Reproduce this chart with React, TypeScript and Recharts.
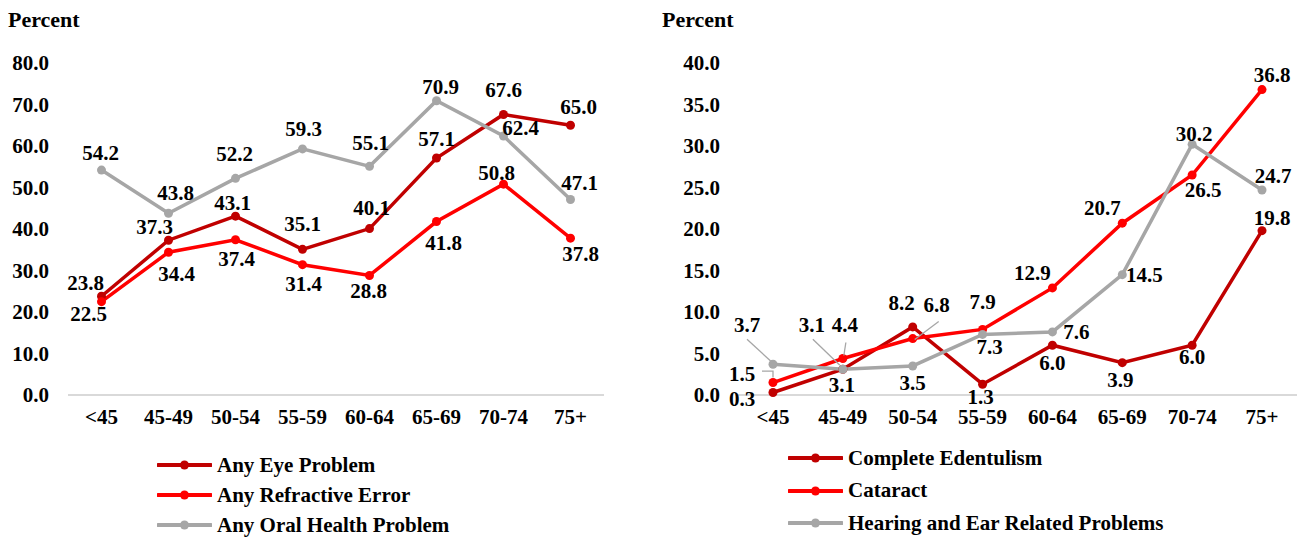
import React from "react";
import { LineChart, Line, XAxis, YAxis } from "recharts";

const ageGroups = ["<45", "45-49", "50-54", "55-59", "60-64", "65-69", "70-74", "75+"];

// left panel
const anyEyeProblem = [23.8, 37.3, 43.1, 35.1, 40.1, 57.1, 67.6, 65.0];
const anyRefractiveError = [22.5, 34.4, 37.4, 31.4, 28.8, 41.8, 50.8, 37.8];
const anyOralHealthProblem = [54.2, 43.8, 52.2, 59.3, 55.1, 70.9, 62.4, 47.1];
const leftTicks = [0, 10, 20, 30, 40, 50, 60, 70, 80];

// right panel
const completeEdentulism = [0.3, 3.1, 8.2, 1.3, 6.0, 3.9, 6.0, 19.8];
const cataract = [1.5, 4.4, 6.8, 7.9, 12.9, 20.7, 26.5, 36.8];
const hearingEarProblems = [3.7, 3.1, 3.5, 7.3, 7.6, 14.5, 30.2, 24.7];
const rightTicks = [0, 5, 10, 15, 20, 25, 30, 35, 40];

const DARK_RED = "#C00000";
const RED = "#FF0000";
const GRAY = "#A6A6A6";
const FONT = "'Liberation Serif', 'Times New Roman', serif";

// label placement (offset from the point), like manually moved Excel labels
type Pt = [number, number];
const eyeLabelPos: Pt[] = [[-16, -13], [-14, -13], [-3, -13], [0, -25], [2, -21], [0, -19], [0, -24], [8, -18]];
const refrLabelPos: Pt[] = [[-13, 12], [8, 22], [1, 19], [1, 19], [-1, 16], [7, 21], [-7, -11], [10, 16]];
const oralLabelPos: Pt[] = [[-1, -17], [7, -20], [-1, -24], [1, -20], [1, -23], [4, -14], [17, -8], [9, -17]];

const edenLabelPos: Pt[] = [[-31, 6], [-1, 16], [-11, -24], [-2, 13], [0, 18], [-2, 17], [0, 12], [10, -13]];
const catLabelPos: Pt[] = [[-31, -9], [2, -33], [24, -34], [0, -27], [-20, -15], [-20, -15], [11, 15], [10, -15]];
const hearLabelPos: Pt[] = [[-26, -39], [-31, -44], [0, 17], [7, 13], [24, 0], [22, 0], [2, -10], [11, -14]];

const catLeaders: Record<number, Pt[]> = {
  0: [[-11, -11.5], [0, -11.5], [0, -5]],
  1: [[3, -16], [1, -3]],
  2: [[26, -17], [2, 1]],
};
const hearLeaders: Record<number, Pt[]> = {
  0: [[-26, -25], [-1, -2]],
  1: [[-30, -30], [-3, -4]],
};

const leftData = ageGroups.map((group, i) => ({
  group,
  eye: anyEyeProblem[i],
  refr: anyRefractiveError[i],
  oral: anyOralHealthProblem[i],
}));

const rightData = ageGroups.map((group, i) => ({
  group,
  eden: completeEdentulism[i],
  cat: cataract[i],
  hear: hearingEarProblems[i],
}));

const tickStyle = { fontSize: 21, fontWeight: "bold", fill: "#000", fontFamily: FONT };

function dotRenderer(color: string) {
  return (props: any) => {
    const { cx, cy, index } = props;
    if (cx == null || cy == null) return <g key={`dot-${index}`} />;
    return <circle key={`dot-${index}`} cx={cx} cy={cy} r={4.5} fill={color} stroke="none" />;
  };
}

function labelRenderer(values: number[], pos: Pt[], leaders: Record<number, Pt[]> = {}) {
  return (props: any) => {
    const { cx, cy, index } = props;
    if (cx == null || cy == null) return <g key={`lbl-${index}`} />;
    const [dx, dy] = pos[index];
    const leader = leaders[index];
    return (
      <g key={`lbl-${index}`}>
        {leader && (
          <polyline
            points={leader.map(([x, y]) => `${cx + x},${cy + y}`).join(" ")}
            fill="none"
            stroke={GRAY}
            strokeWidth={1.3}
          />
        )}
        <text
          x={cx + dx}
          y={cy + dy}
          textAnchor="middle"
          dominantBaseline="central"
          fontSize={21}
          fontWeight="bold"
          fontFamily={FONT}
          fill="#000"
        >
          {values[index].toFixed(1)}
        </text>
      </g>
    );
  };
}

function LegendBlock({
  items,
  left,
  top,
  gap,
}: {
  items: { name: string; color: string }[];
  left: number;
  top: number;
  gap: number;
}) {
  return (
    <>
      {items.map((it, i) => (
        <div
          key={it.name}
          style={{
            position: "absolute",
            left,
            top: top + i * gap - 13,
            height: 26,
            display: "flex",
            alignItems: "center",
            whiteSpace: "nowrap",
          }}
        >
          <svg width={55} height={12} style={{ display: "block" }}>
            <line x1={1} y1={6} x2={54} y2={6} stroke={it.color} strokeWidth={4} strokeLinecap="round" />
            <circle cx={27.5} cy={6} r={4.5} fill={it.color} />
          </svg>
          <span style={{ marginLeft: 5, fontSize: 21, fontWeight: "bold", color: "#000" }}>{it.name}</span>
        </div>
      ))}
    </>
  );
}

export default function App() {
  return (
    <div
      style={{
        position: "absolute",
        left: 0,
        top: 0,
        width: 1307,
        height: 537,
        background: "#fff",
        fontFamily: FONT,
        overflow: "hidden",
      }}
    >
      {/* Percent titles */}
      <div style={{ position: "absolute", left: 8, top: 7, fontSize: 22, fontWeight: "bold" }}>Percent</div>
      <div style={{ position: "absolute", left: 662, top: 7, fontSize: 22, fontWeight: "bold" }}>Percent</div>

      {/* left chart */}
      <div style={{ position: "absolute", left: 0, top: 0 }}>
        <LineChart width={660} height={537} data={leftData} margin={{ top: 63, right: 56, bottom: 112, left: 8 }}>
          <XAxis
            dataKey="group"
            padding={{ left: 33.5, right: 33.5 }}
            tickLine={false}
            axisLine={{ stroke: "#D9D9D9", strokeWidth: 2 }}
            tick={tickStyle}
            tickMargin={8}
            interval={0}
          />
          <YAxis
            type="number"
            domain={[0, 80]}
            ticks={leftTicks}
            width={60}
            axisLine={false}
            tickLine={false}
            tickMargin={13}
            tick={tickStyle}
            tickFormatter={(v: number) => v.toFixed(1)}
          />
          <Line dataKey="eye" stroke={DARK_RED} strokeWidth={3.5} dot={dotRenderer(DARK_RED)} activeDot={false} isAnimationActive={false} />
          <Line dataKey="refr" stroke={RED} strokeWidth={3.5} dot={dotRenderer(RED)} activeDot={false} isAnimationActive={false} />
          <Line dataKey="oral" stroke={GRAY} strokeWidth={3.5} dot={dotRenderer(GRAY)} activeDot={false} isAnimationActive={false} />
          {/* labels on top of every line */}
          <Line dataKey="eye" stroke="none" dot={labelRenderer(anyEyeProblem, eyeLabelPos)} activeDot={false} isAnimationActive={false} />
          <Line dataKey="refr" stroke="none" dot={labelRenderer(anyRefractiveError, refrLabelPos)} activeDot={false} isAnimationActive={false} />
          <Line dataKey="oral" stroke="none" dot={labelRenderer(anyOralHealthProblem, oralLabelPos)} activeDot={false} isAnimationActive={false} />
        </LineChart>
      </div>

      {/* right chart */}
      <div style={{ position: "absolute", left: 660, top: 0 }}>
        <LineChart width={647} height={537} data={rightData} margin={{ top: 63, right: 10, bottom: 112, left: 8 }}>
          <XAxis
            dataKey="group"
            padding={{ left: 35, right: 35 }}
            tickLine={false}
            axisLine={{ stroke: "#D9D9D9", strokeWidth: 2 }}
            tick={tickStyle}
            tickMargin={8}
            interval={0}
          />
          <YAxis
            type="number"
            domain={[0, 40]}
            ticks={rightTicks}
            width={70}
            axisLine={false}
            tickLine={false}
            tickMargin={12}
            tick={tickStyle}
            tickFormatter={(v: number) => v.toFixed(1)}
          />
          <Line dataKey="eden" stroke={DARK_RED} strokeWidth={3.5} dot={dotRenderer(DARK_RED)} activeDot={false} isAnimationActive={false} />
          <Line dataKey="cat" stroke={RED} strokeWidth={3.5} dot={dotRenderer(RED)} activeDot={false} isAnimationActive={false} />
          <Line dataKey="hear" stroke={GRAY} strokeWidth={3.5} dot={dotRenderer(GRAY)} activeDot={false} isAnimationActive={false} />
          <Line dataKey="eden" stroke="none" dot={labelRenderer(completeEdentulism, edenLabelPos)} activeDot={false} isAnimationActive={false} />
          <Line dataKey="cat" stroke="none" dot={labelRenderer(cataract, catLabelPos, catLeaders)} activeDot={false} isAnimationActive={false} />
          <Line dataKey="hear" stroke="none" dot={labelRenderer(hearingEarProblems, hearLabelPos, hearLeaders)} activeDot={false} isAnimationActive={false} />
        </LineChart>
      </div>

      <LegendBlock
        left={157}
        top={465}
        gap={30}
        items={[
          { name: "Any Eye Problem", color: DARK_RED },
          { name: "Any Refractive Error", color: RED },
          { name: "Any Oral Health Problem", color: GRAY },
        ]}
      />
      <LegendBlock
        left={788}
        top={458}
        gap={32.5}
        items={[
          { name: "Complete Edentulism", color: DARK_RED },
          { name: "Cataract", color: RED },
          { name: "Hearing and Ear Related Problems", color: GRAY },
        ]}
      />
    </div>
  );
}
